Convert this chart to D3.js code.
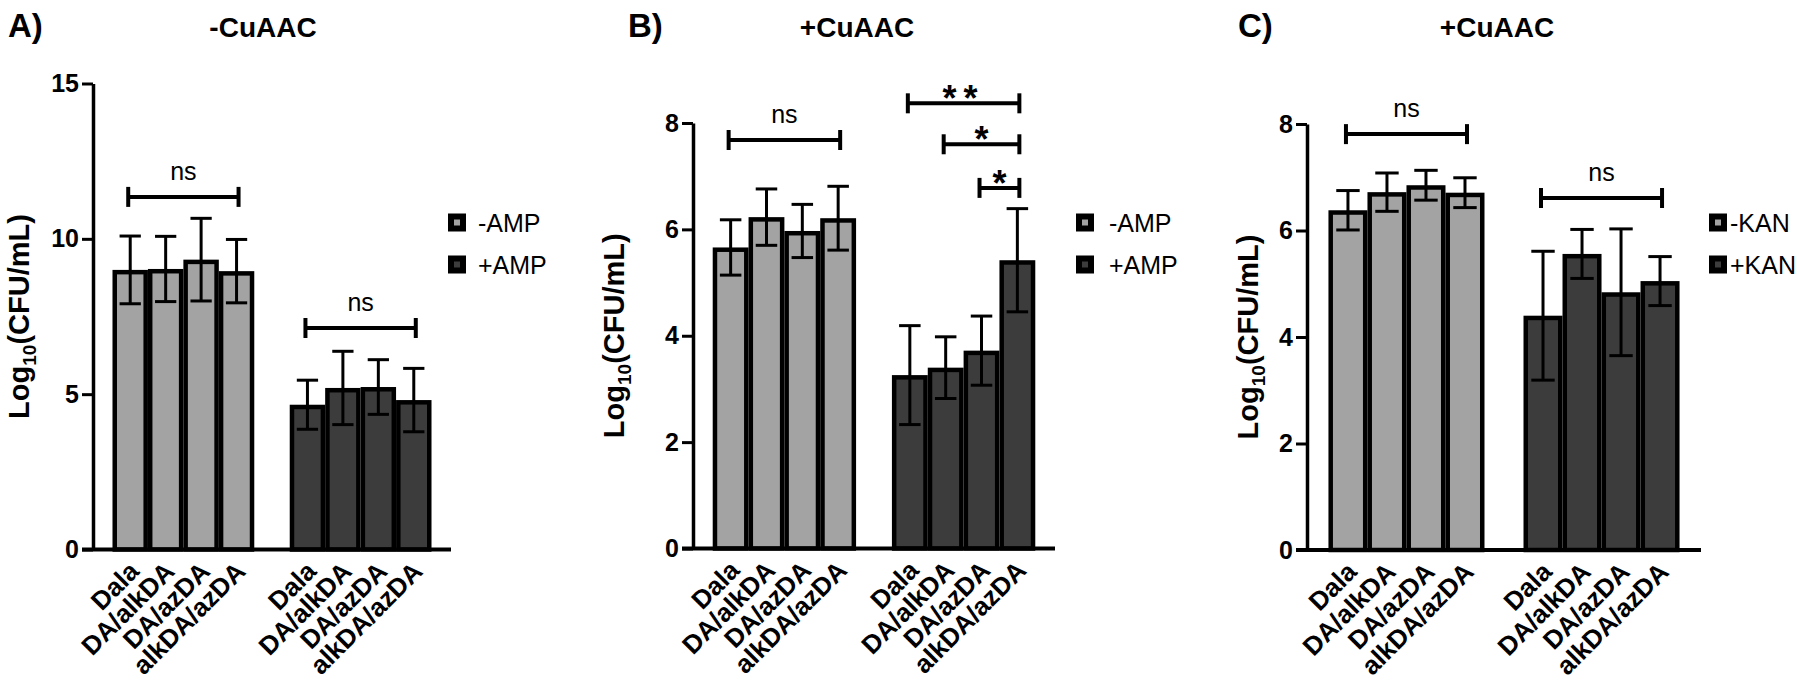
<!DOCTYPE html>
<html><head><meta charset="utf-8">
<script src="https://cdn.jsdelivr.net/npm/d3@7"></script>
<style>body{margin:0;background:#fff} text{font-family:"Liberation Sans",Arial,sans-serif}</style>
</head><body><svg id="c" width="1800" height="693"></svg>
<script>
const categories = ["Dala","DA/alkDA","DA/azDA","alkDA/azDA"];
const panelLetters = ["A)","B)","C)"];
const panelTitles = ["-CuAAC","+CuAAC","+CuAAC"];
const seriesNames = [["-AMP","+AMP"],["-AMP","+AMP"],["-KAN","+KAN"]];
const yMax = [15, 8, 8];
const yTicks = [[0,5,10,15],[0,2,4,6,8],[0,2,4,6,8]];
const aMinus = [9.0, 9.03, 9.33, 8.96];
const aMinusErr = [1.09, 1.05, 1.33, 1.02];
const aPlus = [4.66, 5.2, 5.23, 4.81];
const aPlusErr = [0.79, 1.18, 0.88, 1.02];
const bMinus = [5.66, 6.23, 5.97, 6.21];
const bMinusErr = [0.52, 0.53, 0.5, 0.6];
const bPlus = [3.26, 3.4, 3.72, 5.42];
const bPlusErr = [0.93, 0.58, 0.65, 0.97];
const cMinus = [6.38, 6.72, 6.85, 6.71];
const cMinusErr = [0.37, 0.36, 0.28, 0.28];
const cPlus = [4.4, 5.56, 4.84, 5.05];
const cPlusErr = [1.21, 0.46, 1.19, 0.46];
// significance: [group, fromIdx, toIdx, bracket level (y units), label]
const aSig = [[0,0,3,11.35,"ns"],[1,0,3,7.13,"ns"]];
const bSig = [[0,0,3,7.68,"ns"],[1,0,3,8.37,"**"],[1,1,3,7.6,"*"],[1,2,3,6.78,"*"]];
const cSig = [[0,0,3,7.81,"ns"],[1,0,3,6.61,"ns"]];

const panelData = [
  {means:[aMinus,aPlus], errs:[aMinusErr,aPlusErr], sig:aSig},
  {means:[bMinus,bPlus], errs:[bMinusErr,bPlusErr], sig:bSig},
  {means:[cMinus,cPlus], errs:[cMinusErr,cPlusErr], sig:cSig}
];

// layout (positions only)
const layout = [
 {axisX:93, xEnd:451, y0:549.5, yTop:83.5, letterX:8, titleX:263, ylabX:29, legSqX:448, legTxtX:478},
 {axisX:693, xEnd:1055, y0:548.5, yTop:123, letterX:628, titleX:857, ylabX:624, legSqX:1076, legTxtX:1109},
 {axisX:1307, xEnd:1701, y0:550, yTop:124, letterX:1238, titleX:1497, ylabX:1258, legSqX:1709, legTxtX:1730}
];
const fills = ["#a3a3a3", "#3c3c3c"];
const svg = d3.select("#c");

const slots = [];
[0,1].forEach(g => { categories.forEach((c,i) => slots.push(g+"-"+i)); if (g===0) slots.push("gap"); });

panelData.forEach((pd, p) => {
  const L = layout[p];
  const g = svg.append("g");
  const x = d3.scaleBand().domain(slots).range([L.axisX, L.xEnd]).paddingOuter(0.55).paddingInner(0);
  const y = d3.scaleLinear().domain([0, yMax[p]]).range([L.y0, L.yTop]);
  const bw = x.bandwidth();
  const sw = 4.5;

  // panel letter and title
  g.append("text").attr("x", L.letterX).attr("y", 37).attr("font-size", 33).attr("font-weight", "bold").text(panelLetters[p]);
  g.append("text").attr("x", L.titleX).attr("y", 37).attr("text-anchor", "middle").attr("font-size", 28).attr("font-weight", "bold").text(panelTitles[p]);

  // bars
  pd.means.forEach((arr, s) => {
    const errs = pd.errs[s];
    const bars = g.append("g");
    arr.forEach((v, i) => {
      const xx = x(s+"-"+i);
      bars.append("rect")
        .attr("x", xx + sw/2).attr("width", bw - sw)
        .attr("y", y(v) + sw/2).attr("height", y(0) - y(v) - sw/2)
        .attr("fill", fills[s]).attr("stroke", "#000").attr("stroke-width", sw);
    });
    arr.forEach((v, i) => {
      const cx = x(s+"-"+i) + bw/2;
      const e = errs[i];
      const cw = bw * 0.6;
      const eg = g.append("g").attr("stroke", "#000").attr("stroke-width", 3);
      eg.append("line").attr("x1", cx).attr("x2", cx).attr("y1", y(v+e)).attr("y2", y(v-e));
      eg.append("line").attr("x1", cx-cw/2).attr("x2", cx+cw/2).attr("y1", y(v+e)).attr("y2", y(v+e));
      eg.append("line").attr("x1", cx-cw/2).attr("x2", cx+cw/2).attr("y1", y(v-e)).attr("y2", y(v-e));
    });
  });

  // y axis
  const ya = g.append("g").attr("transform", `translate(${L.axisX},0)`)
    .call(d3.axisLeft(y).tickValues(yTicks[p]).tickSize(11).tickSizeOuter(0).tickPadding(3).tickFormat(d3.format("d")));
  ya.select(".domain").attr("stroke-width", 3.5).attr("stroke", "#000");
  ya.selectAll(".tick line").attr("stroke-width", 3).attr("stroke", "#000");
  ya.selectAll(".tick text").attr("font-size", 25).attr("font-weight", "bold").attr("fill", "#000")
    .attr("font-family", '"Liberation Sans",Arial,sans-serif');

  // x baseline
  g.append("line").attr("x1", L.axisX - 11).attr("x2", L.xEnd).attr("y1", L.y0).attr("y2", L.y0)
    .attr("stroke", "#000").attr("stroke-width", 4);

  // x labels
  const xa = g.append("g").attr("transform", `translate(0,${L.y0})`)
    .call(d3.axisBottom(x).tickSize(0).tickFormat(d => d === "gap" ? "" : categories[+d.split("-")[1]]));
  xa.select(".domain").remove();
  xa.selectAll(".tick text")
    .attr("font-size", 26).attr("font-weight", "bold").attr("fill", "#000")
    .attr("font-family", '"Liberation Sans",Arial,sans-serif')
    .attr("text-anchor", "end").attr("dominant-baseline", "central")
    .attr("x", 0).attr("y", 0).attr("dy", null)
    .attr("transform", "translate(4,17) rotate(-45)");

  // y label
  const yl = g.append("text").attr("text-anchor", "middle").attr("font-size", 29).attr("font-weight", "bold")
    .attr("transform", `translate(${L.ylabX},${(L.y0 + L.yTop)/2}) rotate(-90)`);
  yl.append("tspan").text("Log");
  yl.append("tspan").attr("font-size", 19).attr("dy", 7).text("10");
  yl.append("tspan").attr("dy", -7).text("(CFU/mL)");

  // significance brackets
  pd.sig.forEach(([grp, a, b, lvl, lab]) => {
    const x1 = x(grp+"-"+a) + bw/2 - 2, x2 = x(grp+"-"+b) + bw/2 + 2, yb = y(lvl);
    const sg = g.append("g").attr("stroke", "#000").attr("stroke-width", 4).attr("fill", "none");
    sg.append("line").attr("x1", x1).attr("x2", x2).attr("y1", yb).attr("y2", yb);
    sg.append("line").attr("x1", x1).attr("x2", x1).attr("y1", yb-10).attr("y2", yb+10);
    sg.append("line").attr("x1", x2).attr("x2", x2).attr("y1", yb-10).attr("y2", yb+10);
    const mx = (x1 + x2) / 2;
    if (lab === "ns") {
      g.append("text").attr("x", mx).attr("y", yb - 17).attr("text-anchor", "middle").attr("font-size", 25).text("ns");
    } else {
      const fs = 36;
      g.append("text").attr("x", mx).attr("y", yb - 12 + 0.55*fs).attr("text-anchor", "middle")
        .attr("font-size", fs).attr("font-weight", "bold").attr("letter-spacing", lab.length > 1 ? 7 : 0).text(lab);
    }
  });

  // legend
  seriesNames[p].forEach((nm, s) => {
    const cy = 222.5 + s * 42;
    g.append("rect").attr("x", L.legSqX + 3).attr("y", cy - 6).attr("width", 12).attr("height", 12)
      .attr("fill", fills[s]).attr("stroke", "#000").attr("stroke-width", 6);
    g.append("text").attr("x", L.legTxtX).attr("y", cy + 9).attr("font-size", 25).text(nm);
  });
});
</script></body></html>
